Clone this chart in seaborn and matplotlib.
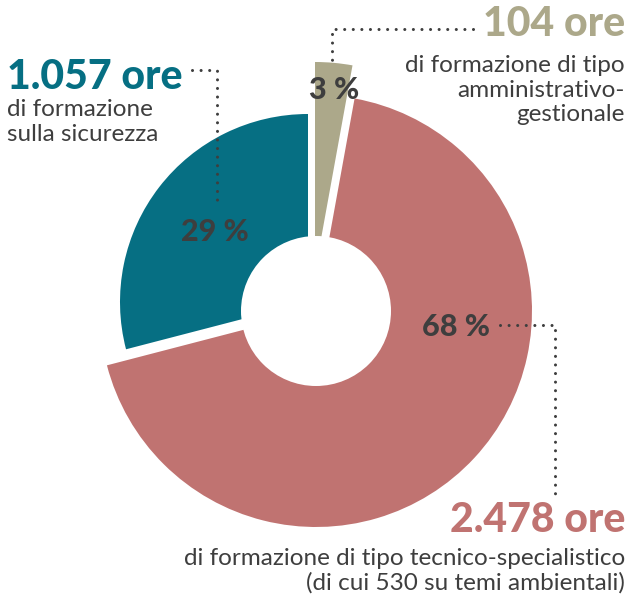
import matplotlib
matplotlib.use("Agg")
import matplotlib.pyplot as plt
from matplotlib.patches import Circle
import seaborn as sns

# --- data -------------------------------------------------------------
categories = ["amministrativo-gestionale", "tecnico-specialistico", "sicurezza"]
hours = [104, 2478, 1057]
pct_labels = ["3 %", "68 %", "29 %"]
hour_labels = ["104 ore", "2.478 ore", "1.057 ore"]
descriptions = [
    ["di formazione di tipo", "amministrativo-", "gestionale"],
    ["di formazione di tipo tecnico-specialistico", "(di cui 530 su temi ambientali)"],
    ["di formazione", "sulla sicurezza"],
]

# --- style ------------------------------------------------------------
sns.set_theme(style="white")
plt.rcParams["font.family"] = ["Lato", "DejaVu Sans"]
palette = sns.color_palette(["#aca88a", "#c07371", "#066f83"])
TEXT = "#3e3e3e"

W, H = 631, 598
fig = plt.figure(figsize=(W / 100, H / 100), dpi=100)
ax = fig.add_axes([0, 0, 1, 1])


def up(y):
    """Convert a top-down pixel row to the axis' upward y coordinate."""
    return H - y


CENTER = (316, up(311))
HOLE_R = 75
# per-slice centre and outer radius (exploded wedges)
slice_geom = [
    ((315, up(272)), 210),
    ((316, up(311)), 216),
    ((308, up(302)), 188),
]

wedges, _ = ax.pie(
    hours,
    colors=palette,
    startangle=90,
    counterclock=False,
    radius=216,
    center=CENTER,
    wedgeprops=dict(linewidth=0),
)
for w, (c, r) in zip(wedges, slice_geom):
    w.set_center(c)
    w.set_radius(r)

ax.add_patch(Circle(CENTER, HOLE_R, facecolor="white", edgecolor="none", zorder=5))

# --- percentage labels ------------------------------------------------
pct_pos = [(334, 90), (456, 327), (215, 232)]
for lab, (x, y) in zip(pct_labels, pct_pos):
    ax.text(x, up(y), lab, ha="center", va="center", fontsize=22,
            fontweight="black", color=TEXT, zorder=6)

# --- dotted leader lines ---------------------------------------------
leaders = [
    ([473, 332, 332], [29, 29, 65]),
    ([500, 555, 555], [325, 325, 495]),
    ([192, 217, 217], [70, 70, 202]),
]
for xs, ys in leaders:
    ax.plot(xs, [up(v) for v in ys], color=TEXT, linewidth=2.2,
            linestyle=(0, (0.01, 2.8)), dash_capstyle="round", zorder=6)

# --- headline and description blocks --------------------------------
blocks = [
    dict(x=625, ha="right", head_y=36, lines_y=[72, 97, 121]),
    dict(x=625, ha="right", head_y=532, lines_y=[565, 590]),
    dict(x=7, ha="left", head_y=89, lines_y=[116, 141]),
]
for i, b in enumerate(blocks):
    ax.text(b["x"], up(b["head_y"]), hour_labels[i], ha=b["ha"], va="baseline",
            fontsize=29.5, fontweight="black", color=palette[i])
    for line, ly in zip(descriptions[i], b["lines_y"]):
        ax.text(b["x"], up(ly), line, ha=b["ha"], va="baseline",
                fontsize=17.5, color=TEXT)

ax.set_xlim(0, W)
ax.set_ylim(0, H)
ax.set_aspect("equal")
ax.axis("off")
fig.savefig("out.png", dpi=100, facecolor="white")
